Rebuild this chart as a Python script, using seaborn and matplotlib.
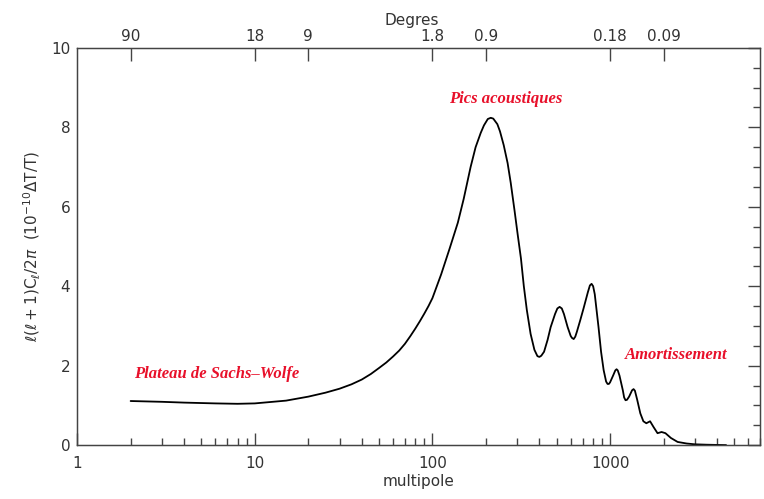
import matplotlib
matplotlib.use("Agg")
import matplotlib.pyplot as plt
import seaborn as sns
import pandas as pd
from matplotlib.ticker import FixedLocator, NullFormatter, MultipleLocator, LogLocator

# Data
multipole = [2, 3, 4, 6, 8, 10, 15, 20, 25, 30, 35, 40, 45, 50, 55, 60, 65, 70, 75, 80,
             85, 90, 95, 100, 112, 125, 139, 150, 164, 175, 187, 195, 205, 213, 220,
             232, 240, 252, 265, 276, 290, 302, 315, 327, 340, 357, 375, 390, 400, 410,
             425, 445, 463, 490, 505, 520, 535, 550, 577, 600, 610, 624, 637, 650, 680,
             710, 750, 770, 787, 803, 820, 861, 890, 920, 950, 968, 985, 1000, 1040,
             1070, 1088, 1105, 1130, 1180, 1200, 1222, 1245, 1280, 1330, 1356, 1380,
             1420, 1480, 1540, 1600, 1680, 1760, 1850, 1950, 2050, 2200, 2400, 2700,
             3000, 3500, 4500]
power = [1.11, 1.09, 1.07, 1.05, 1.04, 1.05, 1.12, 1.22, 1.32, 1.42, 1.53, 1.65, 1.79,
         1.94, 2.08, 2.23, 2.38, 2.55, 2.74, 2.93, 3.12, 3.31, 3.5, 3.7, 4.3, 4.95, 5.6,
         6.2, 7.0, 7.5, 7.86, 8.05, 8.21, 8.24, 8.22, 8.08, 7.9, 7.55, 7.1, 6.6, 5.9,
         5.3, 4.7, 4.0, 3.4, 2.8, 2.4, 2.24, 2.22, 2.25, 2.35, 2.65, 2.97, 3.3, 3.44,
         3.48, 3.44, 3.3, 2.97, 2.75, 2.7, 2.67, 2.73, 2.85, 3.15, 3.45, 3.85, 4.02,
         4.06, 4.0, 3.8, 2.97, 2.35, 1.89, 1.6, 1.54, 1.54, 1.58, 1.75, 1.88, 1.91,
         1.88, 1.75, 1.38, 1.2, 1.13, 1.14, 1.22, 1.38, 1.41, 1.37, 1.15, 0.8, 0.6,
         0.55, 0.6, 0.45, 0.3, 0.33, 0.3, 0.18, 0.08, 0.04, 0.02, 0.01, 0.0]

degree_ticks_ell = [2, 10, 20, 100, 200, 1000, 2000]
degree_labels = ["90", "18", "9", "1.8", "0.9", "0.18", "0.09"]

annotations = ["Plateau de Sachs\u2013Wolfe", "Pics acoustiques", "Amortissement"]
annot_x = [6.1, 259, 2365]
annot_y = [1.79, 8.72, 2.27]

df = pd.DataFrame({"multipole": multipole, "power": power})

sns.set_style("white")
plt.rcParams["font.family"] = ["DejaVu Sans"]

fig = plt.figure(figsize=(7.64, 4.99), dpi=100)
ax = fig.add_axes([0.101, 0.108, 0.894, 0.796])

sns.lineplot(data=df, x="multipole", y="power", ax=ax, color="black", linewidth=1.3)

ax.set_xscale("log")
ax.set_xlim(1, 7000)
ax.set_ylim(0, 10)

axis_col = "#444444"
txt_col = "#333333"
for s in ax.spines.values():
    s.set_color(axis_col)
    s.set_linewidth(1.0)

ax.yaxis.set_major_locator(MultipleLocator(2))
ax.yaxis.set_minor_locator(MultipleLocator(0.5))
ax.xaxis.set_minor_locator(LogLocator(base=10, subs=range(2, 10), numticks=20))
ax.xaxis.set_minor_formatter(NullFormatter())
ax.set_xticks([1, 10, 100, 1000])
ax.set_xticklabels(["1", "10", "100", "1000"])

ax.tick_params(axis="both", which="major", direction="in", length=9, width=1,
               color=axis_col, labelsize=11, labelcolor=txt_col, pad=8)
ax.tick_params(axis="both", which="minor", direction="in", length=5, width=1,
               color=axis_col)
ax.tick_params(axis="y", which="both", right=True)
ax.tick_params(axis="y", which="major", pad=5)

ax.set_xlabel("multipole", fontsize=11, color=txt_col, labelpad=2)
ax.set_ylabel(r"$\ell(\ell+1)\mathrm{C}_\ell/2\pi$  ($10^{-10}\Delta\mathrm{T/T}$)",
              fontsize=11, color=txt_col, labelpad=6)

# Top axis in degrees
ax2 = ax.twiny()
ax2.set_xscale("log")
ax2.set_xlim(ax.get_xlim())
ax2.xaxis.set_major_locator(FixedLocator(degree_ticks_ell))
ax2.xaxis.set_minor_locator(FixedLocator([]))
ax2.set_xticklabels(degree_labels)
ax2.tick_params(axis="x", which="major", direction="in", length=9, width=1,
                color=axis_col, labelsize=11, labelcolor=txt_col, pad=3)
for s in ax2.spines.values():
    s.set_color(axis_col)
ax2.set_xlabel("Degres", fontsize=11, color=txt_col)
ax2.xaxis.set_label_coords(0.49, 1.058)

for t, xv, yv in zip(annotations, annot_x, annot_y):
    ax.text(xv, yv, t, color="#e8102a", fontsize=12, fontweight="bold",
            fontstyle="italic", family="Liberation Serif", ha="center", va="center")

fig.savefig("out.png", dpi=100)
